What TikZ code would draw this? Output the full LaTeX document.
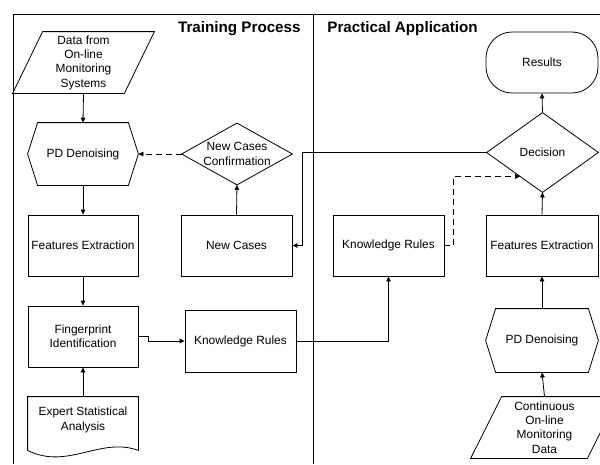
\documentclass[tikz,border=0pt]{standalone}
\usepackage{fontspec}
\setmainfont{Liberation Sans}
\usetikzlibrary{arrows.meta,calc}

\begin{document}
\begin{tikzpicture}[x=1pt, y=-1pt, line width=0.8pt,
    >={Triangle[length=5pt,width=4.5pt]},
    every node/.style={font=\fontsize{11.9}{14.3}\selectfont, align=center, inner sep=0pt},
    box/.style={draw, minimum width=111pt, minimum height=61pt},
    outline/.style={minimum width=111pt, minimum height=61pt},
    title/.style={font=\fontsize{15.2}{18}\selectfont\bfseries}]
    \clip (0,0) rectangle (600,464);
    \draw (13,464) |- (600,14);
    \draw (313,14) -- (313,464);
    \node[title, anchor=east] (train) at (301,28.5) {Training Process};
    \node[title, anchor=west] (pract) at (327,28.5) {Practical Application};

    \node[outline] (data) at (83.5,62.5) {Data from\\On-line\\Monitoring\\Systems};
    \draw ([xshift=15pt]data.north west) -- ([xshift=15pt]data.north east)
        -- ([xshift=-15pt]data.south east) -- ([xshift=-15pt]data.south west) -- cycle;
    \node[outline, minimum width=110pt, minimum height=62pt] (den1) at (83,154) {PD Denoising};
    \draw (den1.west) -- ([xshift=10pt]den1.north west) -- ([xshift=-10pt]den1.north east)
        -- (den1.east) -- ([xshift=-10pt]den1.south east) -- ([xshift=10pt]den1.south west) -- cycle;
    \node[box, minimum width=110pt] (fe1) at (83,245.5) {Features Extraction};
    \node[box, minimum width=110pt] (fp) at (83,336.5) {Fingerprint\\Identification};
    \node[outline, minimum width=110pt, minimum height=46pt] (doc) at (83,420) {Expert Statistical\\Analysis};
    \draw ([yshift=-7pt]doc.south west) -- (doc.north west) -- (doc.north east) -- ([yshift=-7pt]doc.south east)
        .. controls +(-38,-14) and +(40,20) .. ([yshift=-7pt]doc.south west);

    \node[outline, minimum width=110pt] (ncc) at (237,154) {New Cases\\Confirmation};
    \draw (ncc.north) -- (ncc.east) -- (ncc.south) -- (ncc.west) -- cycle;
    \node[box] (nc) at (236.5,245.5) {New Cases};
    \node[box, minimum height=62pt] (kr1) at (240.5,341) {Knowledge Rules};
    \node[box] (kr2) at (388.5,245.5) {Knowledge Rules};

    \node[draw, outline, minimum width=112pt, rounded corners=26pt] (res) at (542,62.5) {Results};
    \node[outline, minimum height=79pt] (dec) at (542.5,152.5) {Decision};
    \draw (dec.north) -- (dec.east) -- (dec.south) -- (dec.west) -- cycle;
    \node[box, minimum width=112pt] (fe2) at (542,245.5) {Features Extraction};
    \node[outline, minimum width=112pt, minimum height=63pt] (den2) at (542,340.5) {PD Denoising};
    \draw (den2.west) -- ([xshift=10pt]den2.north west) -- ([xshift=-10pt]den2.north east)
        -- (den2.east) -- ([xshift=-10pt]den2.south east) -- ([xshift=10pt]den2.south west) -- cycle;
    \node[outline, minimum width=116pt] (cont) at (544.5,427.5) {Continuous\\On-line\\Monitoring\\Data};
    \draw ([xshift=15.5pt]cont.north west) -- ([xshift=15.5pt]cont.north east)
        -- ([xshift=-15.5pt]cont.south east) -- ([xshift=-15.5pt]cont.south west) -- cycle;

    \draw[->] (data.south) -- (den1.north);
    \draw[->] (den1.south) -- (fe1.north);
    \draw[->] (fe1.south) -- (fp.north);
    \draw[->] (doc.north) -- (fp.south);
    \draw[->, dashed, dash pattern=on 6pt off 4pt] (ncc.west) -- (den1.east);
    \draw[->] (nc.north) -- (ncc.south);
    \draw[->] (fp.east) -- ++(10,0) |- (kr1.west);
    \draw[->] (kr1.east) -| (kr2.south);
    \draw[->, dashed, dash pattern=on 6pt off 4pt] (kr2.east) -- ++(9,0) |- ($(dec.west)!0.6!(dec.south)$);
    \draw[->] (dec.west) -| ([xshift=10pt]nc.east) -- (nc.east);
    \draw[->] (dec.north) -- (res.south);
    \draw[->] (fe2.north) -- (dec.south);
    \draw[->] (den2.north) -- (fe2.south);
    \draw[->] (cont.north) -- (den2.south);
\end{tikzpicture}
\end{document}
